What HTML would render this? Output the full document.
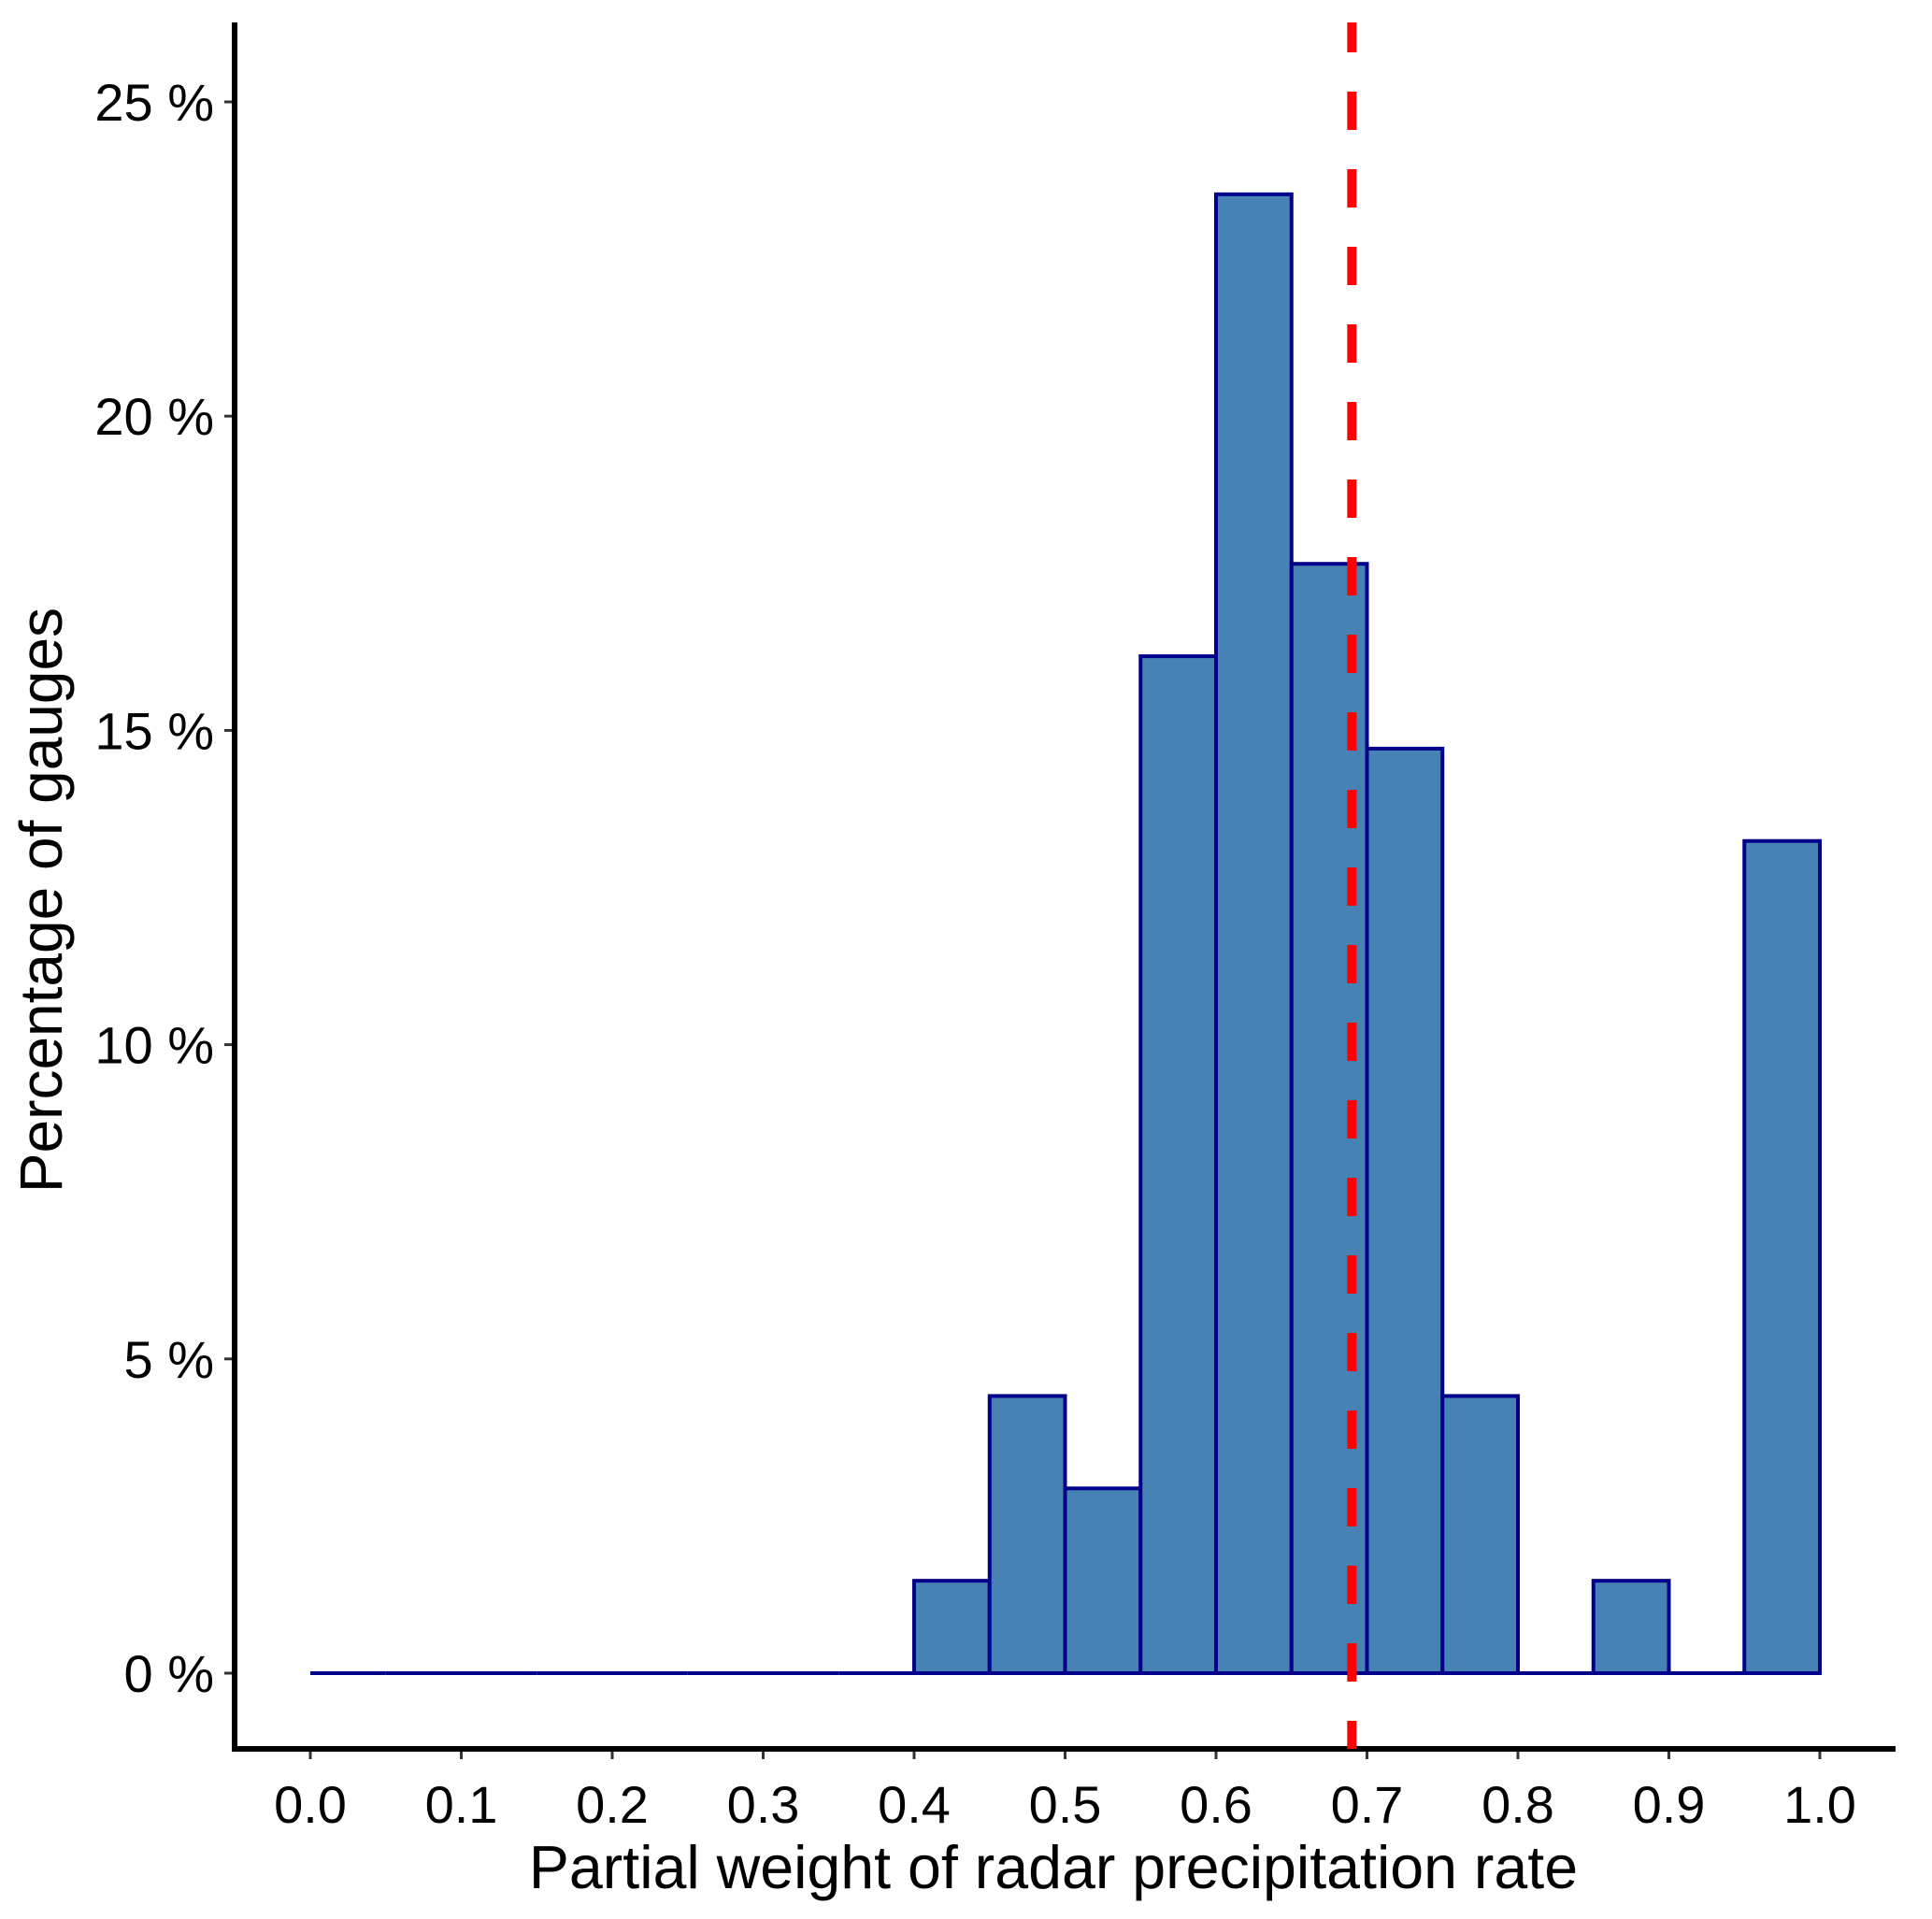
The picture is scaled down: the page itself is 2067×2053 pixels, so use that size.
<!DOCTYPE html>
<html><head><meta charset="utf-8"><style>
html,body{margin:0;padding:0;background:#fff;}
svg text{font-family:"Liberation Sans",Arial,sans-serif;fill:#000;}
</style></head><body>
<svg id="chart" width="2067" height="2053" viewBox="0 0 2067 2053" xmlns="http://www.w3.org/2000/svg" style="position:absolute;left:0;top:0">
<g id="bars"></g>
<g id="axes"></g>
</svg>
<script>
const binStarts = [0.0,0.05,0.1,0.15,0.2,0.25,0.3,0.35,0.4,0.45,0.5,0.55,0.6,0.65,0.7,0.75,0.8,0.85,0.9,0.95];
const binPercents = [0,0,0,0,0,0,0,0,1.47,4.41,2.94,16.18,23.53,17.65,14.71,4.41,0,1.47,0,13.24];
const binWidth = 0.05;
const meanValue = 0.69;
const xTicks = [0.0,0.1,0.2,0.3,0.4,0.5,0.6,0.7,0.8,0.9,1.0];
const yTicks = [0,5,10,15,20,25];

const NS = "http://www.w3.org/2000/svg";
const X0 = 332, X1 = 1947, Y0 = 1790, Y25 = 109;
function xs(v){ return X0 + (X1 - X0) * v; }
function ys(v){ return Y0 + (Y25 - Y0) * v / 25; }
function mk(tag, attrs, parent){
  const e = document.createElementNS(NS, tag);
  for (const k in attrs) e.setAttribute(k, attrs[k]);
  parent.appendChild(e); return e;
}
const bars = document.getElementById('bars');
const axes = document.getElementById('axes');
const svg = document.getElementById('chart');

binStarts.forEach((s, i) => {
  const p = binPercents[i];
  const x = xs(s), w = xs(s + binWidth) - x, y = ys(p);
  if (p > 0) {
    const r = mk('rect', {x:x, y:y, width:w, height:Y0 - y, fill:'#4682B4', stroke:'#00008B', 'stroke-width':4}, bars);
    
    
  } else {
    const l = mk('line', {x1:x, x2:x + w, y1:Y0, y2:Y0, stroke:'#00008B', 'stroke-width':4}, bars);
    
    
  }
});

const ml = mk('line', {x1:xs(meanValue), x2:xs(meanValue), y1:24, y2:1871, stroke:'#FF0000', 'stroke-width':10, 'stroke-dasharray':'41 42', 'stroke-dashoffset':'-157'}, svg);



const ya = mk('line', {x1:251, x2:251, y1:24, y2:1874, stroke:'#000', 'stroke-width':6}, axes);


const xa = mk('line', {x1:248, x2:2028, y1:1871, y2:1871, stroke:'#000', 'stroke-width':6}, axes);



yTicks.forEach(t => {
  const y = ys(t);
  const tk = mk('line', {x1:240, x2:248, y1:y, y2:y, stroke:'#333', 'stroke-width':3}, axes);
  
  
  const tx = mk('text', {x:229, y:y + 20, 'text-anchor':'end', 'font-size':56}, axes);
  tx.textContent = t + ' %';
  
  
});
xTicks.forEach(t => {
  const x = xs(t);
  const tk = mk('line', {x1:x, x2:x, y1:1874, y2:1882, stroke:'#333', 'stroke-width':3}, axes);
  
  
  const tx = mk('text', {x:x, y:1950, 'text-anchor':'middle', 'font-size':56}, axes);
  tx.textContent = t.toFixed(1);
  
  
});
</script>
<svg style="position:absolute;left:0;top:0" width="2067" height="2053">
<text x="1127" y="2020" text-anchor="middle" font-size="64.5" font-family="Liberation Sans, sans-serif">Partial weight of radar precipitation rate</text>
<text transform="translate(66,963) rotate(-90)" x="0" y="0" text-anchor="middle" font-size="64" font-family="Liberation Sans, sans-serif">Percentage of gauges</text>
</svg>
</body></html>
